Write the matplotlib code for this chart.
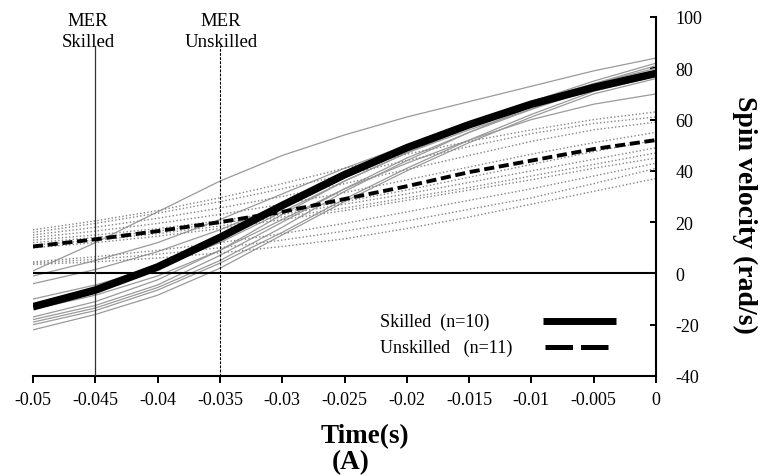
import matplotlib
matplotlib.use("Agg")
import matplotlib.pyplot as plt

plt.rcParams["font.family"] = ["Liberation Serif", "DejaVu Serif"]
plt.rcParams["axes.unicode_minus"] = False

# time axis (s) and curves
t = [-0.05, -0.045, -0.04, -0.035, -0.03, -0.025, -0.02, -0.015, -0.01, -0.005, 0.0]

skilled_mean   = [-13, -6.5, 2.5, 14, 26.5, 38.5, 49, 58, 66, 72.5, 78]
unskilled_mean = [10.5, 13.3, 16.5, 20, 24, 29, 34, 39.5, 44, 48.5, 52]

# individual skilled subjects (n=10)
s1  = [1, 12, 24, 36, 46, 54, 61, 67, 73, 79, 84]
s2  = [-1, 5, 12, 21, 31, 41, 50, 59, 67, 74, 80]
s3  = [-4, 1.5, 8.5, 17, 27, 38, 48, 58, 67, 75, 82]
s4  = [-10, -4.5, 2.5, 12, 24, 36, 47, 57, 66, 74, 81]
s5  = [-14, -8.5, -1, 9, 21, 33, 43, 52, 60, 66, 70]
s6  = [-17, -11, -2.5, 9, 23, 36, 47, 56, 64, 73, 79]
s7  = [-18, -12.5, -4.5, 7, 20, 33, 45, 55, 64, 72, 79]
s8  = [-19, -13.5, -5.5, 5, 18, 32, 44, 55, 65, 73, 78]
s9  = [-20, -14.5, -6.5, 4, 16, 29, 41, 52, 62, 71, 77]
s10 = [-22, -16, -8.5, 2, 15, 28, 40, 51, 61, 70, 76]
skilled = [s1, s2, s3, s4, s5, s6, s7, s8, s9, s10]

# individual unskilled subjects (n=11)
u1  = [17, 20.5, 24.5, 29.5, 35, 41, 46.5, 51.5, 56, 60, 63]
u2  = [16, 19.5, 23.5, 28, 33, 38.5, 44, 49.5, 54.5, 58.5, 61]
u3  = [15, 18, 21.5, 25.5, 30, 35, 40.5, 46, 51.5, 56, 59]
u4  = [14, 16.5, 19.5, 23, 27, 31.5, 36.5, 41.5, 46.5, 51, 55]
u5  = [13, 15, 17.5, 20.5, 24, 28, 32.5, 37.5, 42.5, 47.5, 52]
u6  = [12, 14, 16.5, 19.5, 23, 27, 31, 35.5, 40, 44.5, 49]
u7  = [11, 13, 15.5, 18.5, 22, 25.5, 29.5, 33.5, 38, 42.5, 47]
u8  = [10, 12, 14.5, 17.5, 21, 24.5, 28.5, 32.5, 36.5, 41, 45]
u9  = [4.5, 6.5, 9, 12, 15.5, 19.5, 24, 28.5, 33, 38, 43]
u10 = [4, 5.5, 7.5, 10, 13, 16.5, 20.5, 25, 29.5, 35, 41]
u11 = [3.5, 4.5, 6, 8, 10.5, 13.5, 17.5, 22, 27, 32, 37]
unskilled = [u1, u2, u3, u4, u5, u6, u7, u8, u9, u10, u11]

mer_skilled, mer_unskilled = -0.045, -0.035

xticks = [-0.05, -0.045, -0.04, -0.035, -0.03, -0.025, -0.02, -0.015, -0.01, -0.005, 0]
xlabels = ["-0.05", "-0.045", "-0.04", "-0.035", "-0.03", "-0.025", "-0.02",
           "-0.015", "-0.01", "-0.005", "0"]
yticks = [-40, -20, 0, 20, 40, 60, 80, 100]

fig = plt.figure(figsize=(7.6, 4.77), dpi=100)
ax = fig.add_axes([33/760, 1-377/477, 623/760, 359/477])

for v in skilled:
    ax.plot(t, v, color="#9a9a9a", lw=0.9, zorder=2)
for v in unskilled:
    ax.plot(t, v, color="#858585", lw=1.0, ls=(0, (1, 1.6)), zorder=2)

ax.axhline(0, color="black", lw=1.5, zorder=3)

ax.plot(t, skilled_mean, color="black", lw=5.5, solid_capstyle="butt", zorder=5)
ax.plot(t, unskilled_mean, color="black", lw=2.8, ls=(0, (2.6, 1.2)), zorder=5)

# MER markers
ax.plot([mer_skilled, mer_skilled], [-40, 88.5], color="#333333", lw=0.9, zorder=4)
ax.plot([mer_unskilled, mer_unskilled], [-40, 88.5], color="black", lw=0.8,
        ls=(0, (2.5, 1.2)), zorder=4)
ax.text(mer_skilled - 0.0006, 94.7, "MER\nSkilled", ha="center", va="center",
        fontsize=13.5, linespacing=1.3)
ax.text(mer_unskilled + 0.0001, 94.7, "MER\nUnskilled", ha="center", va="center",
        fontsize=13.5, linespacing=1.3)

# legend drawn by hand
ax.text(0.557, 0.153, "Skilled  (n=10)", transform=ax.transAxes, fontsize=13,
        ha="left", va="center")
ax.text(0.557, 0.081, "Unskilled   (n=11)", transform=ax.transAxes, fontsize=13,
        ha="left", va="center")
ax.plot([0.819, 0.936], [0.153, 0.153], transform=ax.transAxes, color="black",
        lw=5, solid_capstyle="butt")
ax.plot([0.822, 0.936], [0.081, 0.081], transform=ax.transAxes, color="black",
        lw=3.6, ls=(0, (5.5, 1.6)))

ax.set_xlim(-0.05, 0)
ax.set_ylim(-40, 100)
ax.set_xticks(xticks)
ax.set_xticklabels(xlabels)
ax.set_yticks(yticks)
ax.yaxis.tick_right()
ax.spines["left"].set_visible(False)
ax.spines["top"].set_visible(False)
ax.spines["right"].set_linewidth(1.5)
ax.spines["bottom"].set_linewidth(1.5)
ax.tick_params(axis="x", direction="out", length=5, width=1.4, labelsize=13, pad=6)
ax.tick_params(axis="y", direction="in", length=4, width=1.4, labelsize=13, pad=14,
               right=True, left=False, labelright=True, labelleft=False)

fig.text(365/760, 1-437/477, "Time(s)", ha="center", va="center",
         fontsize=19.5, fontweight="bold")
fig.text(351/760, 1-463/477, "(A)", ha="center", va="center",
         fontsize=19.5, fontweight="bold")
fig.text(745/760, 1-215/477, "Spin velocity (rad/s)", ha="center", va="center",
         rotation=270, fontsize=20, fontweight="bold")

fig.savefig("out.png", dpi=100)
